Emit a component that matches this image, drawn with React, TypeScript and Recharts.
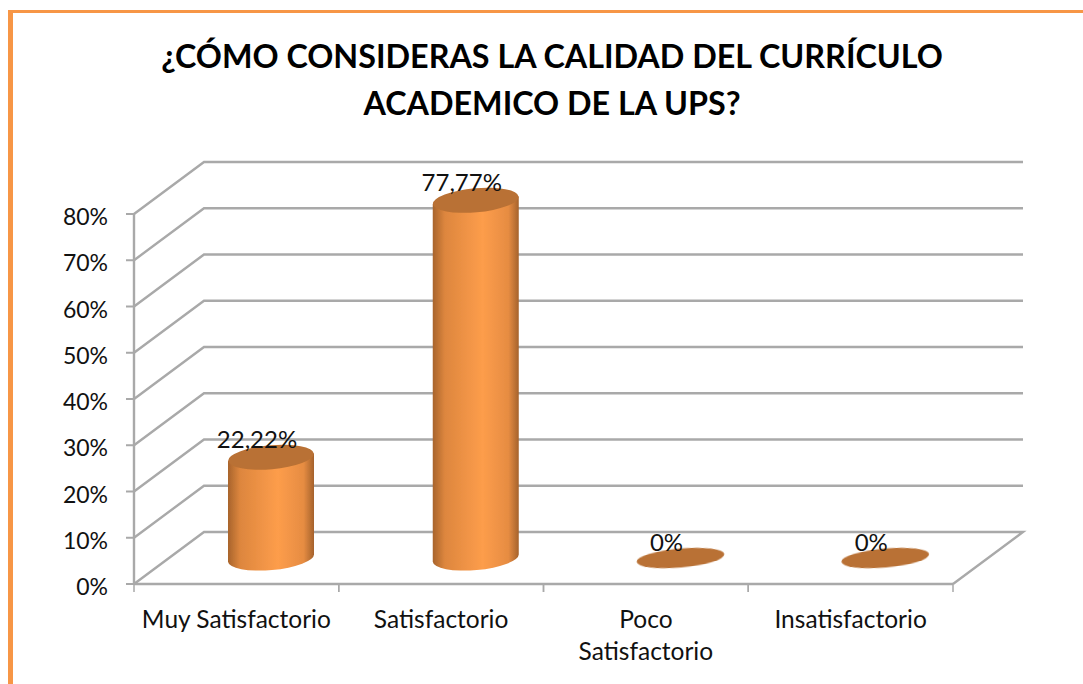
import { Bar, BarChart, CartesianGrid, LabelList, XAxis, YAxis } from "recharts";

const categories = ["Muy Satisfactorio", "Satisfactorio", "Poco\nSatisfactorio", "Insatisfactorio"];
const values = [22.22, 77.77, 0, 0];
const valueTicks = [0, 10, 20, 30, 40, 50, 60, 70, 80];
const titleLines = ["¿CÓMO CONSIDERAS LA CALIDAD DEL CURRÍCULO", "ACADEMICO DE LA UPS?"];

const chartData = categories.map((name, i) => ({ name, value: values[i] }));

const FONT = "Lato, 'Open Sans', sans-serif";
const LINE = "#a9a9a9";
// fake 3D: the back wall is shifted from the front plane by this much
const DEPTH_X = 70;
const DEPTH_Y = 52;

function fmtLabel(v: number) {
  return `${String(v).replace(".", ",")}%`;
}

function WallLine(props: any) {
  const { x1, x2, y1, y, height } = props;
  const isFloor = Math.abs(y1 - (y + height)) < 1;
  const d = isFloor
    ? `M${x1},${y1} L${x1 + DEPTH_X},${y1 - DEPTH_Y} L${x2 + DEPTH_X},${y1 - DEPTH_Y} L${x2},${y1}`
    : `M${x1},${y1} L${x1 + DEPTH_X},${y1 - DEPTH_Y} L${x2 + DEPTH_X},${y1 - DEPTH_Y}`;
  return <path d={d} fill="none" stroke={LINE} strokeWidth={2.4} filter="url(#soft)" />;
}

function Cylinder(props: any) {
  const { x, y, width, height } = props;
  // the cylinder stands halfway into the floor
  const cx = x + width / 2 + DEPTH_X / 2;
  const rx = width / 2;
  const ry = 12;
  const base = y + height - DEPTH_Y / 2;
  const top = y - DEPTH_Y / 2 + 2;
  const tilt = `rotate(-5 ${cx} ${base})`;
  const tiltTop = `rotate(-5 ${cx} ${top})`;
  const lift = rx * Math.tan((5 * Math.PI) / 180);

  if (height < 1) {
    return <ellipse cx={cx} cy={base} rx={rx + 1} ry={ry * 0.8} fill="#b97134" transform={tilt} filter="url(#soft)" />;
  }
  return (
    <g filter="url(#soft)">
      <path
        d={`M${cx - rx},${top + lift} L${cx - rx},${base + lift}
            A${rx},${ry} -5 0 0 ${cx + rx},${base - lift}
            L${cx + rx},${top - lift} Z`}
        fill="url(#cylFill)"
      />
      <ellipse cx={cx} cy={top} rx={rx} ry={ry} fill="#b97134" transform={tiltTop} />
    </g>
  );
}

function ValueLabel(props: any) {
  const { x, y, width, value } = props;
  return (
    <text
      x={x + width / 2 + 21}
      y={y - 41}
      dy={8}
      textAnchor="middle"
      fontFamily={FONT}
      fontSize={24}
      fill="#111"
    >
      {fmtLabel(value)}
    </text>
  );
}

function CategoryTick(props: any) {
  const { x, y, payload, band } = props;
  const lines = String(payload.value).split("\n");
  return (
    <g>
      <line x1={x - band / 2} x2={x - band / 2} y1={y - 8} y2={y} stroke={LINE} strokeWidth={1.5} />
      <line x1={x + band / 2} x2={x + band / 2} y1={y - 8} y2={y} stroke={LINE} strokeWidth={1.5} />
      {lines.map((t, i) => (
        <text
          key={t}
          x={x}
          y={y + 36 + i * 32}
          textAnchor="middle"
          fontFamily={FONT}
          fontSize={24.5}
          fill="#111"
        >
          {t}
        </text>
      ))}
    </g>
  );
}

export default function App() {
  return (
    <div style={{ position: "absolute", left: 0, top: 0, width: 1083, height: 684, background: "#fff", overflow: "hidden" }}>
      <div style={{ position: "absolute", left: 8, top: 10, right: 0, bottom: 0, borderLeft: "5px solid #f79646", borderTop: "3px solid #f79646" }} />
      <div
        style={{
          position: "absolute",
          left: 12,
          width: 1080,
          top: 32,
          textAlign: "center",
          fontFamily: FONT,
          fontWeight: 700,
          fontSize: 32.3,
          lineHeight: "47px",
          color: "#000",
        }}
      >
        {titleLines.map((t) => (
          <div key={t}>{t}</div>
        ))}
      </div>
      <div style={{ position: "absolute", left: 0, top: 0 }}>
        <BarChart
          width={1083}
          height={684}
          data={chartData}
          margin={{ top: 214, right: 130, left: 0, bottom: 0 }}
          barSize={86}
        >
          <defs>
            <linearGradient id="cylFill" x1="0" y1="0" x2="1" y2="0">
              <stop offset="0%" stopColor="#a8642c" />
              <stop offset="14%" stopColor="#dd863e" />
              <stop offset="58%" stopColor="#fd9d4b" />
              <stop offset="88%" stopColor="#e68c42" />
              <stop offset="100%" stopColor="#a5622c" />
            </linearGradient>
            <filter id="soft" x="-5%" y="-5%" width="110%" height="110%">
              <feGaussianBlur stdDeviation="0.6" />
            </filter>
          </defs>
          <CartesianGrid vertical={false} horizontal={(p: any) => <WallLine key={p.key} {...p} />} />
          <XAxis
            dataKey="name"
            height={100}
            interval={0}
            axisLine={{ stroke: LINE, strokeWidth: 2.4 }}
            tickLine={false}
            tick={(p: any) => <CategoryTick {...p} band={819 / categories.length} />}
          />
          <YAxis
            width={134}
            domain={[0, 80]}
            ticks={valueTicks}
            tickFormatter={(v) => `${v}%`}
            axisLine={{ stroke: LINE, strokeWidth: 2.4 }}
            tickLine={{ stroke: LINE, strokeWidth: 2 }}
            tickSize={8}
            tickMargin={18}
            tick={{ fontFamily: FONT, fontSize: 23, fill: "#111", dy: 3 }}
          />
          <Bar dataKey="value" shape={(p: any) => <Cylinder {...p} />} isAnimationActive={false}>
            <LabelList dataKey="value" content={(p: any) => <ValueLabel {...p} />} />
          </Bar>
        </BarChart>
      </div>
    </div>
  );
}
